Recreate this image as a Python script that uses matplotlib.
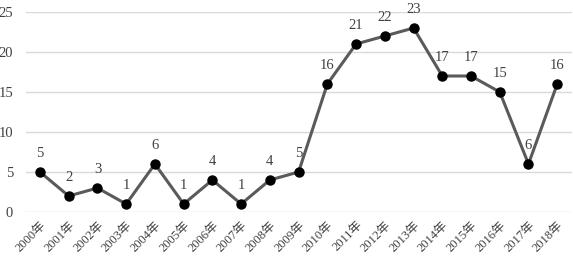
import matplotlib
matplotlib.use("Agg")
import matplotlib.pyplot as plt

years = [f"{y}年" for y in range(2000, 2019)]
values = [5, 2, 3, 1, 6, 1, 4, 1, 4, 5, 16, 21, 22, 23, 17, 17, 15, 6, 16]
yticks = [0, 5, 10, 15, 20, 25]

plt.rcParams['font.family'] = ['Liberation Serif', 'Noto Sans CJK SC', 'DejaVu Sans']

fig = plt.figure(figsize=(5.73, 2.66), dpi=100)
ax = fig.add_axes([25.6/573, 54/266, 546/573, 200/266])
x = list(range(len(values)))
ax.plot(x, values, color='#5a5a5a', lw=2.2, marker='o', markersize=6.5,
        markerfacecolor='black', markeredgecolor='black', zorder=3, clip_on=False)
for xi, v in zip(x, values):
    ax.annotate(str(v), (xi, v), xytext=(0, 8.5), textcoords='offset points',
                ha='center', va='bottom', fontsize=10.5, color='#404040')
ax.set_xlim(-0.5, len(values) - 0.5)
ax.set_ylim(0, 25)
ax.set_yticks(yticks)
ax.set_xticks(x)
ax.set_xticklabels(years, rotation=45, ha='right', rotation_mode='anchor', fontsize=9, color='#404040')
ax.tick_params(axis='y', labelsize=10.5, colors='#404040', length=0, pad=9)
ax.tick_params(axis='x', length=0, pad=5)
ax.grid(axis='y', color='#d9d9d9', lw=1)
ax.set_axisbelow(True)
for s in ax.spines.values():
    s.set_visible(False)
fig.savefig("out.png", dpi=100)
